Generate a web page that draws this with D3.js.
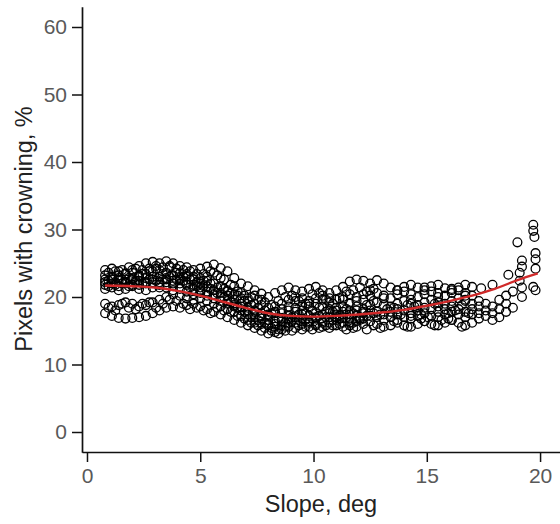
<!DOCTYPE html>
<html>
<head>
<meta charset="utf-8">
<script src="https://cdn.jsdelivr.net/npm/d3@7"></script>
<style>
  body { margin: 0; background: #fff; }
  svg { display: block; font-family: "Liberation Sans", Arial, sans-serif; }
</style>
</head>
<body>
<svg id="chart"></svg>
<script>
// slope grid (deg) shared by the point strands
const slope = [
  0.8, 1.1, 1.4, 1.7, 2.0, 2.3, 2.6, 2.9, 3.2, 3.5,
  3.8, 4.1, 4.4, 4.7, 5.0, 5.3, 5.6, 5.9, 6.2, 6.5,
  6.8, 7.1, 7.4, 7.7, 8.0, 8.3, 8.6, 8.9, 9.2, 9.5,
  9.8, 10.1, 10.4, 10.7, 11.0, 11.3, 11.6, 11.9, 12.2, 12.5,
  12.8, 13.1, 13.4, 13.7, 14.0, 14.3, 14.6, 14.9, 15.2, 15.5,
  15.8, 16.1, 16.4, 16.7, 17.0
];
// second grid, half a step over, for the denser strands
const slopeMid = [
  0.95, 1.25, 1.55, 1.85, 2.15, 2.45, 2.75, 3.05, 3.35, 3.65,
  3.95, 4.25, 4.55, 4.85, 5.15, 5.45, 5.75, 6.05, 6.35, 6.65,
  6.95, 7.25, 7.55, 7.85, 8.15, 8.45, 8.75, 9.05, 9.35, 9.65,
  9.95, 10.25, 10.55, 10.85, 11.15, 11.45, 11.75, 12.05, 12.35, 12.65,
  12.95, 13.25, 13.55, 13.85, 14.15, 14.45, 14.75, 15.05, 15.35, 15.65,
  15.95, 16.25, 16.55, 16.85, 17.15
];

// pixels with crowning, % (one strand per array)
const strandA = [
  24.0, 24.2, 23.8, 23.5, 24.0, 24.6, 25.0, 25.2, 25.0, 25.3,
  25.0, 24.6, 24.4, 24.0, 24.2, 24.5, 24.8, 24.3, 23.8, 22.8,
  22.0, 21.6, 21.0, 20.5, 20.0, 20.6, 21.0, 21.4, 21.0, 20.8,
  21.2, 21.5, 21.0, 20.6, 21.0, 21.5, 22.3, 22.6, 22.4, 22.0,
  22.5, 22.0, 21.4, 21.0, 21.5, 21.8, 21.4, 21.0, 21.6, 21.8,
  21.3, 21.0, 21.4, 21.8, 21.5
];
const strandB = [
  23.2, 23.0, 22.8, 23.4, 23.6, 23.0, 23.4, 23.8, 24.0, 23.6,
  23.2, 23.5, 23.0, 22.6, 22.8, 22.4, 22.0, 21.6, 21.0, 20.4,
  19.8, 19.4, 19.0, 18.8, 18.4, 18.6, 19.0, 19.6, 20.0, 19.8,
  19.4, 19.8, 20.2, 19.8, 19.6, 20.0, 20.4, 20.0, 19.6, 20.2,
  20.6, 20.2, 19.8, 20.4, 20.8, 20.4, 20.0, 20.4, 20.8, 20.6,
  20.2, 20.6, 21.0, 20.6, 20.2
];
const strandC = [
  22.2, 22.0, 22.4, 22.2, 21.8, 22.4, 22.8, 22.6, 22.2, 22.8,
  22.4, 22.0, 22.2, 21.8, 21.4, 21.6, 21.0, 20.6, 20.2, 19.6,
  19.0, 18.4, 18.0, 17.6, 17.4, 17.8, 18.2, 18.6, 18.4, 18.0,
  18.6, 19.0, 18.6, 18.2, 18.0, 18.6, 19.0, 18.6, 18.2, 18.8,
  19.2, 18.8, 18.6, 19.0, 19.4, 19.0, 18.8, 19.2, 19.6, 19.2,
  19.0, 19.4, 19.8, 19.4, 19.0
];
const strandD = [
  21.2, 21.4, 21.0, 21.2, 21.6, 21.2, 21.0, 21.4, 21.8, 21.4,
  21.0, 21.2, 20.8, 20.4, 20.6, 20.2, 19.8, 19.4, 19.0, 18.6,
  18.0, 17.4, 17.0, 16.8, 16.6, 16.4, 16.8, 17.2, 17.0, 16.8,
  17.2, 17.6, 17.4, 17.0, 17.4, 17.8, 17.4, 17.2, 17.6, 18.0,
  17.8, 17.4, 17.8, 18.2, 18.0, 17.6, 18.0, 18.4, 18.2, 17.8,
  18.2, 18.6, 18.2, 17.8, 18.2
];
const strandE = [
  19.0, 18.6, 18.8, 19.2, 19.0, 18.6, 18.8, 19.2, 19.6, 20.0,
  20.4, 20.2, 19.8, 19.6, 19.8, 19.4, 19.0, 18.6, 18.2, 17.8,
  17.2, 16.6, 16.2, 16.0, 15.8, 16.0, 16.4, 16.6, 16.2, 16.0,
  16.4, 16.8, 16.4, 16.2, 16.6, 17.0, 16.8, 16.4, 16.8, 17.2,
  17.0, 16.6, 17.0, 17.4, 17.0, 16.8, 17.2, 17.6, 17.2, 17.0,
  17.4, 17.8, 17.4, 17.0, 17.4
];
const strandF = [
  17.6, 17.2, 16.9, 16.8, 16.9, 17.0, 17.2, 17.6, 18.0, 18.4,
  18.6, 18.4, 18.8, 19.0, 18.6, 18.2, 17.8, 17.4, 17.0, 16.6,
  16.2, 15.8, 15.4, 15.0, 14.6, 14.8, 15.2, 15.6, 15.4, 15.2,
  15.6, 16.0, 15.6, 15.4, 15.8, 16.2, 15.8, 15.6, 16.0, 16.4,
  16.0, 15.6, 15.8, 16.2, 15.8, 15.6, 16.0, 16.4, 16.0, 15.8,
  16.2, 16.6, 16.2, 15.8, 16.2
];
const strandG = [
  22.6, 22.8, 23.2, 22.6, 22.8, 23.2, 22.0, 22.2, 23.0, 22.6,
  22.0, 22.8, 21.8, 21.2, 21.0, 20.8, 20.4, 20.0, 19.4, 18.8,
  18.6, 18.0, 17.8, 17.2, 16.0, 15.6, 15.8, 16.2, 17.8, 17.4,
  16.2, 15.8, 16.2, 17.6, 17.0, 15.6, 16.2, 18.0, 17.8, null,
  null, null, null, 16.6, null, 17.2, null, 16.4, null, 18.6,
  null, 16.6, null, 19.6, null
];
const strandH = [
  21.8, 22.6, 21.6, 22.0, 22.6, 21.8, 22.2, 23.0, 21.4, 22.2,
  21.6, 22.6, 23.4, 23.0, 22.0, 23.0, 23.6, 22.8, 20.8, 21.6,
  20.6, 19.8, 20.2, 19.6, 17.2, 17.6, 17.6, 18.0, 19.4, 18.8,
  19.0, 17.0, 19.6, 19.2, 18.4, 19.6, 18.0, 19.4, 20.4, 21.0,
  null, 19.8, null, 21.0, null, 19.6, null, 21.4, null, 20.0,
  null, 21.2, null, 20.2, null
];
// strands on the half-step grid
const strandI = [
  22.4, 21.8, 22.0, 22.8, 22.2, 22.0, 22.6, 22.4, 23.4, 23.0,
  23.6, 22.4, 22.6, 21.6, 21.6, 21.2, 20.6, 20.0, 19.2, 18.4,
  17.8, 17.0, 16.6, 16.2, 15.4, 15.2, 15.6, 16.4, 16.6, 16.6,
  16.8, 17.2, 17.0, 16.6, 17.2, 17.4, 16.2, 17.0, 17.2, 17.6,
  17.4, null, 18.4, null, 18.8, null, 17.4, null, 19.0, null,
  17.6, null, 18.8, null, null
];
const strandJ = [
  21.6, 22.2, 22.6, 21.6, 22.4, 23.4, 23.8, 24.2, 22.6, 24.4,
  22.6, 23.0, 21.4, 22.2, 22.4, 22.0, 21.4, 21.2, 20.6, 20.2,
  19.4, 18.8, 18.4, 18.0, 17.6, 16.8, 16.2, 17.0, 17.4, 17.6,
  18.0, 18.4, 17.8, 17.8, 16.8, 18.2, 17.6, 16.8, 18.8, 19.4,
  null, 18.2, null, 17.4, null, 18.6, null, 17.0, null, 16.6,
  null, 18.0, null, 17.6, null
];
const strandK = [
  18.4, 18.0, 19.0, 18.4, 18.2, 19.0, 19.2, 18.4, 19.0, 19.6,
  19.4, 19.0, 18.2, 18.4, 18.0, 17.6, 18.4, 18.0, 17.8, 17.2,
  16.8, 16.2, 15.8, 15.4, 15.0, 14.6, 15.0, 15.0, 15.8, 15.6,
  15.2, 15.4, 15.8, 15.8, 16.0, 15.2, 15.4, 16.6, 15.2, 15.8,
  15.4, null, 16.4, null, 15.6, null, 16.8, null, 15.8, null,
  16.8, null, 15.6, null, null
];
const strandL = [
  23.6, 23.8, 24.0, 24.4, 24.2, 24.0, 24.2, 24.6, 24.4, 24.6,
  24.2, 24.0, 23.8, 23.4, 23.4, 23.8, 23.2, 22.6, 21.8, 20.8,
  20.2, 20.0, 19.6, 19.2, 18.8, 19.4, 20.0, 20.2, 19.4, 19.0,
  20.4, 20.6, 19.6, 19.0, 19.8, 20.8, 21.0, 21.4, 20.8, 21.2,
  null, null, null, null, null, null, null, null, null, null,
  null, null, null, null, null
];

// sparse points on the steep end
const tailSlope = [
  17.3, 17.3, 17.3, 17.3, 17.4, 17.6, 17.6, 17.6, 17.9, 17.9,
  17.9, 17.9, 18.2, 18.2, 18.2, 18.5, 18.5, 18.5, 18.6, 18.8,
  18.8, 19.0, 19.1, 19.1, 19.2, 19.2, 19.2, 19.2, 19.7, 19.7,
  19.75, 19.8, 19.8, 19.8, 19.7, 19.8
];
const tailCover = [
  16.8, 17.6, 18.6, 19.4, 21.3, 17.2, 18.0, 19.0, 16.6, 17.6,
  18.6, 21.8, 17.0, 18.2, 19.6, 17.8, 19.0, 20.2, 23.3, 18.4,
  20.8, 28.1, 23.6, 22.4, 25.4, 24.5, 21.4, 20.0, 30.7, 29.8,
  28.9, 26.5, 25.6, 24.2, 21.5, 21.0
];

// smoothed fit (red line)
const fitSlope = [0.8, 2, 3, 4, 5, 6, 7, 8, 9, 10, 11, 12, 13, 14, 15, 16, 17, 18, 19, 19.9];
const fitCover = [21.7, 21.6, 21.4, 20.9, 20.2, 19.3, 18.4, 17.6, 17.2, 17.1, 17.2, 17.4, 17.7, 18.1, 18.7, 19.4, 20.2, 21.2, 22.5, 23.5];

const xTicks = [0, 5, 10, 15, 20];
const yTicks = [0, 10, 20, 30, 40, 50, 60];

const width = 560;
const height = 524;

const svg = d3.select("#chart").attr("width", width).attr("height", height);

//SCALES
const x = d3.scaleLinear().domain([-0.22, 20.88]).range([82, 560]);
const y = d3.scaleLinear().domain([-3, 63]).range([452.25, 6.75]);

//POINTS
let points = [];
[strandA, strandB, strandC, strandD, strandE, strandF, strandG, strandH].forEach((s) => {
  s.forEach((v, i) => {
    if (v != null) points.push([slope[i], v]);
  });
});
[strandI, strandJ, strandK, strandL].forEach((s) => {
  s.forEach((v, i) => {
    if (v != null) points.push([slopeMid[i], v]);
  });
});
tailSlope.forEach((v, i) => points.push([v, tailCover[i]]));

svg
  .append("g")
  .selectAll("circle")
  .data(points)
  .enter()
  .append("circle")
  .attr("cx", (d) => x(d[0]))
  .attr("cy", (d) => y(d[1]))
  .attr("r", 4.4)
  .attr("fill", "none")
  .attr("stroke", "#000")
  .attr("stroke-width", 1.3);

//FIT LINE
const fit = fitSlope.map((v, i) => [v, fitCover[i]]);
svg
  .append("path")
  .datum(fit)
  .attr("fill", "none")
  .attr("stroke", "#d02a2a")
  .attr("stroke-width", 2.4)
  .attr("d", d3.line().x((d) => x(d[0])).y((d) => y(d[1])).curve(d3.curveMonotoneX));

//AXIS
const xAxis = d3.axisBottom(x).tickValues(xTicks).tickSize(10).tickSizeOuter(0).tickPadding(6);
const gx = svg.append("g").attr("transform", "translate(0,452)").call(xAxis);

const yAxis = d3.axisLeft(y).tickValues(yTicks).tickSize(10).tickSizeOuter(0).tickPadding(5);
const gy = svg.append("g").attr("transform", "translate(82,0)").call(yAxis);

[gx, gy].forEach((g) => {
  g.select(".domain").attr("stroke", "#111").attr("stroke-width", 1.7);
  g.selectAll(".tick line").attr("stroke", "#111").attr("stroke-width", 1.5);
  g.selectAll(".tick text")
    .attr("fill", "#595959")
    .style("font-size", "21px")
    .style("font-family", "'Liberation Sans', Arial, sans-serif");
});

//TITLES
svg
  .append("text")
  .text("Slope, deg")
  .attr("x", 321)
  .attr("y", 512)
  .attr("text-anchor", "middle")
  .attr("fill", "#222")
  .style("font-size", "23.5px");

svg
  .append("text")
  .text("Pixels with crowning, %")
  .attr("transform", "translate(32,229) rotate(-90)")
  .attr("text-anchor", "middle")
  .attr("fill", "#222")
  .style("font-size", "23.5px");
</script>
</body>
</html>
